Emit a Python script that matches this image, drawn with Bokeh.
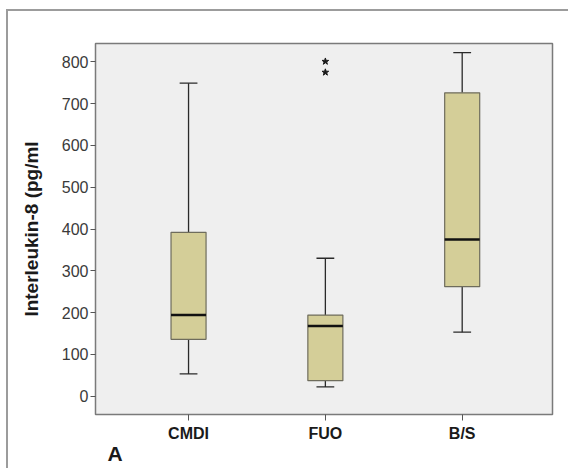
from bokeh.plotting import figure
from bokeh.models import Range1d, FixedTicker, Title
from bokeh.embed import file_html
from bokeh.resources import INLINE
import numpy as np

categories = ["CMDI", "FUO", "B/S"]
whisker_low = [53, 22, 153]
q1 = [136, 37, 262]
median = [194, 168, 375]
q3 = [392, 194, 726]
whisker_high = [749, 330, 822]
outlier_cat = ["FUO", "FUO"]
outlier_val = [801, 775]
y_ticks = [0, 100, 200, 300, 400, 500, 600, 700, 800]

xpos = np.arange(1, len(categories) + 1)
out_x = [categories.index(c) + 1 for c in outlier_cat]

BOX_W = 0.256
CAP_W = 0.13

p = figure(width=562, height=459, output_backend="svg", toolbar_location=None,
           x_range=Range1d(0.32, 3.66), y_range=Range1d(-44, 844),
           min_border_left=87, min_border_top=32, min_border_right=18, min_border_bottom=56,
           background_fill_color="#efefef", border_fill_color="white",
           outline_line_color="#7a7a7a", outline_line_width=1.5)
p.styles = {"margin-left": "6px", "margin-top": "9px",
            "border-left": "2px solid #9c9c9c", "border-top": "2px solid #9c9c9c"}
p.grid.visible = False

# whiskers
p.segment(x0=xpos, y0=q3, x1=xpos, y1=whisker_high, line_color="#2a2a2a", line_width=1.3)
p.segment(x0=xpos, y0=whisker_low, x1=xpos, y1=q1, line_color="#2a2a2a", line_width=1.3)
p.segment(x0=xpos - CAP_W / 2, y0=whisker_high, x1=xpos + CAP_W / 2, y1=whisker_high,
          line_color="#2a2a2a", line_width=1.3)
p.segment(x0=xpos - CAP_W / 2, y0=whisker_low, x1=xpos + CAP_W / 2, y1=whisker_low,
          line_color="#2a2a2a", line_width=1.3)
# boxes
p.vbar(x=xpos, width=BOX_W, bottom=q1, top=q3, fill_color="#d4ce98",
       line_color="#6e6c5c", line_width=1.2)
# medians
p.segment(x0=xpos - BOX_W / 2, y0=median, x1=xpos + BOX_W / 2, y1=median,
          line_color="#111111", line_width=2.5)
# outliers
p.scatter(x=out_x, y=outlier_val, marker="star", size=7, fill_color="#1a1a1a",
          line_color="#1a1a1a")

# axes
p.xaxis.ticker = FixedTicker(ticks=list(xpos))
p.xaxis.major_label_overrides = {int(i): c for i, c in zip(xpos, categories)}
p.xaxis.axis_line_color = None
p.xaxis.major_tick_out = 6
p.xaxis.major_tick_in = 0
p.xaxis.minor_tick_line_color = None
p.xaxis.major_tick_line_color = "#555555"
p.xaxis.major_label_text_font = "Liberation Sans"
p.xaxis.major_label_text_font_style = "bold"
p.xaxis.major_label_text_font_size = "16px"
p.xaxis.major_label_text_color = "#1a1a1a"
p.xaxis.major_label_standoff = 4

p.yaxis.ticker = FixedTicker(ticks=y_ticks)
p.yaxis.axis_line_color = None
p.yaxis.major_tick_out = 5
p.yaxis.major_tick_in = 0
p.yaxis.minor_tick_line_color = None
p.yaxis.major_tick_line_color = "#555555"
p.yaxis.major_label_text_font = "Liberation Sans"
p.yaxis.major_label_text_font_size = "16px"
p.yaxis.major_label_text_color = "#3a3a3a"
p.yaxis.major_label_standoff = 2
p.yaxis.axis_label = "Interleukin-8 (pg/ml"
p.yaxis.axis_label_text_font = "Liberation Sans"
p.yaxis.axis_label_text_font_style = "bold"
p.yaxis.axis_label_text_font_size = "19px"
p.yaxis.axis_label_text_color = "#1a1a1a"
p.yaxis.axis_label_standoff = 17

p.add_layout(Title(text="A", align="left", offset=12, text_font="Liberation Sans",
                   text_font_style="bold", text_font_size="21px", text_color="#1a1a1a",
                   standoff=-10), "below")

open("out.html", "w").write(file_html(p, INLINE))
